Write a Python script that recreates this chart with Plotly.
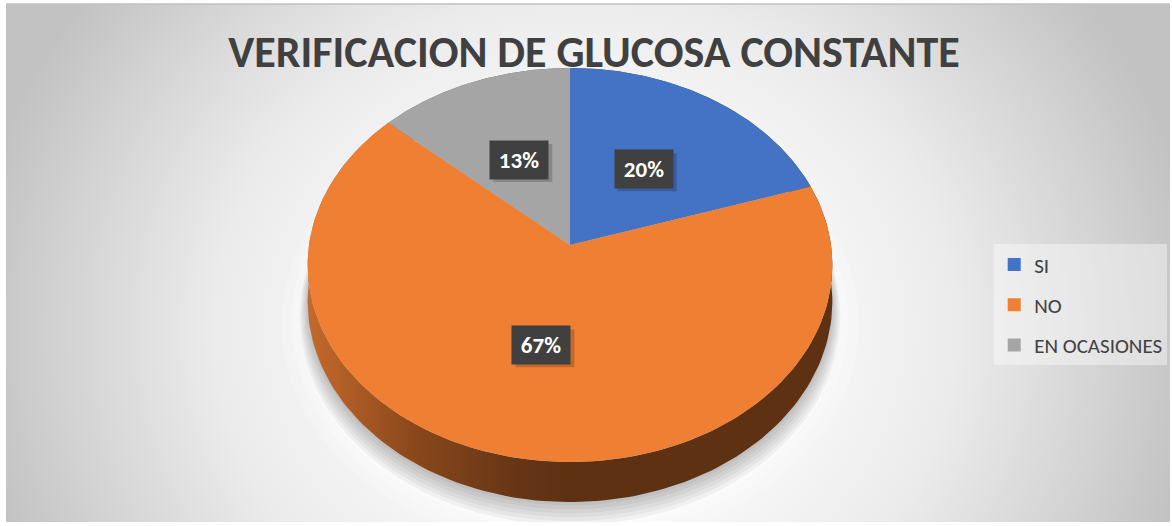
import numpy as np
import plotly.graph_objects as go

# ---------------- data ----------------
chart_title = "VERIFICACION DE GLUCOSA CONSTANTE"
categories = ["SI", "NO", "EN OCASIONES"]
counts = [3, 10, 2]
slice_colors = ["#4472c4", "#ef7f32", "#a5a5a5"]
side_colors = [
    [[0, "#2f5597"], [1, "#203864"]],
    [[0, "#c4692b"], [0.2, "#8a481b"], [0.4, "#663516"], [0.5, "#5e3113"], [1, "#5e3113"]],
    [[0, "#7f7f7f"], [1, "#505050"]],
]

# ---------------- geometry (pixel-like data space) ----------------
W, H = 1172, 526
CX, CY = 570, 245      # pie apex
R = 261                # horizontal radius
A = 195                # depth radius (projected)
K = 0.1015             # perspective factor
D = 36                 # pie thickness


def proj(theta_deg, r=1.0, drop=0.0):
    th = np.radians(np.asarray(theta_deg, dtype=float))
    u = r * np.sin(th)
    v = r * np.cos(th)
    s = 1 + K * v
    return CX + R * u / s, CY - A * v / s + drop / s


total = float(sum(counts))
fracs = [c / total for c in counts]
starts = np.concatenate([[0], np.cumsum(fracs)[:-1]]) * 360
ends = np.cumsum(fracs) * 360

fig = go.Figure()

# background radial gradient
bx0, bx1, by0, by1 = -35, 1205, -230, 890
fig.add_trace(go.Scatter(
    x=[bx0, bx1, bx1, bx0, bx0], y=[by0, by0, by1, by1, by0],
    mode="lines", line=dict(width=0), fill="toself",
    fillgradient=dict(type="radial",
                      colorscale=[[0, "#ffffff"], [0.3, "#fbfbfb"], [0.6, "#ebebeb"],
                                  [0.85, "#d2d2d2"], [1, "#c2c2c2"]]),
    showlegend=False, hoverinfo="skip"))

# soft floor glow
ring = np.linspace(0, 360, 241)
for i, (g, a) in enumerate([(1.10, 0.18), (1.06, 0.22), (1.03, 0.3)]):
    fx, fy = proj(ring, r=g, drop=D + 18)
    fig.add_trace(go.Scatter(x=fx, y=fy, mode="lines", line=dict(width=0),
                             fill="toself", fillcolor=f"rgba(255,255,255,{a})",
                             showlegend=False, hoverinfo="skip"))

# shadow
for i in range(6):
    sx, sy = proj(ring, r=1.0 + 0.006 * i, drop=D + 3 + 2.2 * i)
    fig.add_trace(go.Scatter(x=sx, y=sy, mode="lines", line=dict(width=0),
                             fill="toself", fillcolor="rgba(0,0,0,0.045)",
                             showlegend=False, hoverinfo="skip"))

# sides
for i in range(len(categories)):
    th = np.linspace(starts[i], ends[i], 160)
    tx, ty = proj(th)
    bx, by = proj(th[::-1], drop=D)
    fig.add_trace(go.Scatter(
        x=np.concatenate([tx, bx, tx[:1]]), y=np.concatenate([ty, by, ty[:1]]),
        mode="lines", line=dict(width=0), fill="toself",
        fillgradient=dict(type="horizontal", colorscale=side_colors[i],
                          start=CX - R, stop=CX + R),
        showlegend=False, hoverinfo="skip"))

# top faces
for i in range(len(categories)):
    th = np.linspace(starts[i], ends[i], 160)
    tx, ty = proj(th)
    fig.add_trace(go.Scatter(
        x=np.concatenate([[CX], tx, [CX]]), y=np.concatenate([[CY], ty, [CY]]),
        mode="lines", line=dict(width=0), fill="toself", fillcolor=slice_colors[i],
        showlegend=False, hoverinfo="skip"))

# legend entries
for i, cat in enumerate(categories):
    fig.add_trace(go.Scatter(
        x=[None], y=[None], mode="markers", name=cat, legendgroup=cat,
        marker=dict(symbol="square", size=13, color=slice_colors[i])))

# data labels
FONT = "Carlito, Lato, sans-serif"
annotations = []
shapes = [dict(type="line", xref="paper", yref="paper", x0=0, x1=1, y0=1, y1=1,
               line=dict(color="#c0c0c0", width=1.5))]
for i in range(len(categories)):
    mid = (starts[i] + ends[i]) / 2
    lx, ly = proj(mid, r=0.5)
    txt = f"{round(100 * fracs[i])}%"
    shapes.append(dict(type="rect", xref="x", yref="y", xsizemode="pixel", ysizemode="pixel",
                       xanchor=float(lx), yanchor=float(ly), x0=-26, x1=33, y0=-22, y1=16,
                       fillcolor="rgba(0,0,0,0.18)", line=dict(width=0), layer="above"))
    annotations.append(dict(x=float(lx), y=float(ly), text=f"<b>{txt}</b>", showarrow=False,
                            width=54, height=34, borderpad=2, bgcolor="#404040",
                            font=dict(size=23, color="#ffffff", family=FONT)))

fig.update_layout(
    width=W, height=H,
    margin=dict(l=6, r=2, t=4, b=4),
    paper_bgcolor="#ffffff", plot_bgcolor="#ffffff",
    xaxis=dict(range=[6, 1170], visible=False, fixedrange=True),
    yaxis=dict(range=[522, 4], visible=False, fixedrange=True),
    title=dict(text=f"<b>{chart_title}</b>", x=594 / W, y=1 - 52 / H,
               xanchor="center", yanchor="middle", xref="container", yref="container",
               font=dict(size=44, color="#404040", family=FONT)),
    legend=dict(x=995 / W, y=1 - 244 / H, xanchor="left", yanchor="top",
                bgcolor="rgba(255,255,255,0.4)", font=dict(size=21, color="#404040", family=FONT),
                traceorder="grouped", tracegroupgap=10, itemwidth=30),
    annotations=annotations,
    shapes=shapes,
)

fig.write_html("out.html", config={"displayModeBar": False},
               post_script="document.body.style.margin='0';")
